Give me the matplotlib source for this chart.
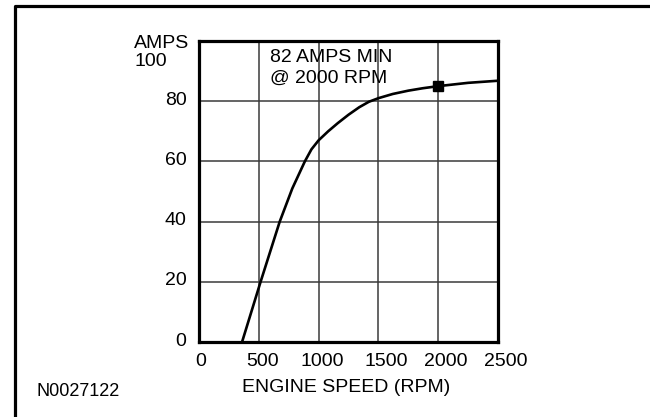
"""Кривая отдачи генератора: ток (А) от оборотов двигателя."""

import matplotlib

matplotlib.use("Agg")
import matplotlib.pyplot as plt
from matplotlib.lines import Line2D
from matplotlib.transforms import ScaledTranslation

# данные
rpm = [360, 515, 675, 780, 885, 940, 1000, 1080, 1160, 1250, 1340, 1420,
       1500, 1620, 1750, 1870, 2000, 2250, 2500]
amps = [0, 20, 40, 51, 60, 64, 67, 70, 72.7, 75.5, 78, 79.8,
        81, 82.4, 83.5, 84.3, 85, 86.1, 86.8]
spec_rpm = [2000]
spec_amps = [85]
x_ticks = [0, 500, 1000, 1500, 2000, 2500]
y_ticks = [0, 20, 40, 60, 80]
note_lines = ["82 AMPS MIN", "@ 2000 RPM"]

W, H, DPI = 650, 417, 100
plt.rcParams["font.family"] = ["Liberation Sans", "DejaVu Sans"]


def fx(px):
    return px / W


def fy(py):
    return 1 - py / H


fig = plt.figure(figsize=(W / DPI, H / DPI), dpi=DPI)
ax = fig.add_axes([fx(199), fy(342), (498 - 199) / W, (342 - 41) / H])

ax.plot(rpm, amps, color="black", linewidth=1.9, solid_joinstyle="round", zorder=3)
ax.plot(spec_rpm, spec_amps, marker="s", markersize=7, color="black",
        linestyle="none", zorder=4)

ax.set_xlim(0, 2500)
ax.set_ylim(0, 100)
ax.set_xticks(x_ticks)
ax.set_yticks(y_ticks)
ax.grid(color="#3a3a3a", linewidth=1.1)
ax.tick_params(length=0, labelsize=14, colors="black")
ax.tick_params(axis="x", pad=8)
ax.tick_params(axis="y", pad=9)
for s in ax.spines.values():
    s.set_linewidth(2.3)
    s.set_color("black")

# подписи на картинке слегка сдвинуты относительно сетки
x_shift = [2, 4, 4, 8, 8, 8]
for lab, dx in zip(ax.get_xticklabels(), x_shift):
    lab.set_transform(lab.get_transform() + ScaledTranslation(dx / DPI, 0, fig.dpi_scale_trans))
for lab in ax.get_yticklabels():
    lab.set_transform(lab.get_transform() + ScaledTranslation(0, 3 / DPI, fig.dpi_scale_trans))

fig.text(fx(134), fy(43), "AMPS", fontsize=14, ha="left", va="center")
fig.text(fx(134), fy(61), "100", fontsize=14, ha="left", va="center")
fig.text(fx(270), fy(58), note_lines[0], fontsize=14, ha="left", va="center")
fig.text(fx(270), fy(78), note_lines[1], fontsize=14, ha="left", va="center")
fig.text(fx(346), fy(388), "ENGINE SPEED (RPM)", fontsize=14, ha="center", va="center")
fig.text(fx(37), fy(392), "N0027122", fontsize=13, ha="left", va="center")

# внешняя рамка (справа и снизу обрезана)
fig.add_artist(Line2D([fx(14.8), fx(14.8), fx(W + 5)], [fy(H + 5), fy(6), fy(6)],
                      transform=fig.transFigure, color="black", linewidth=2.3))

fig.savefig("out.png", dpi=DPI)
